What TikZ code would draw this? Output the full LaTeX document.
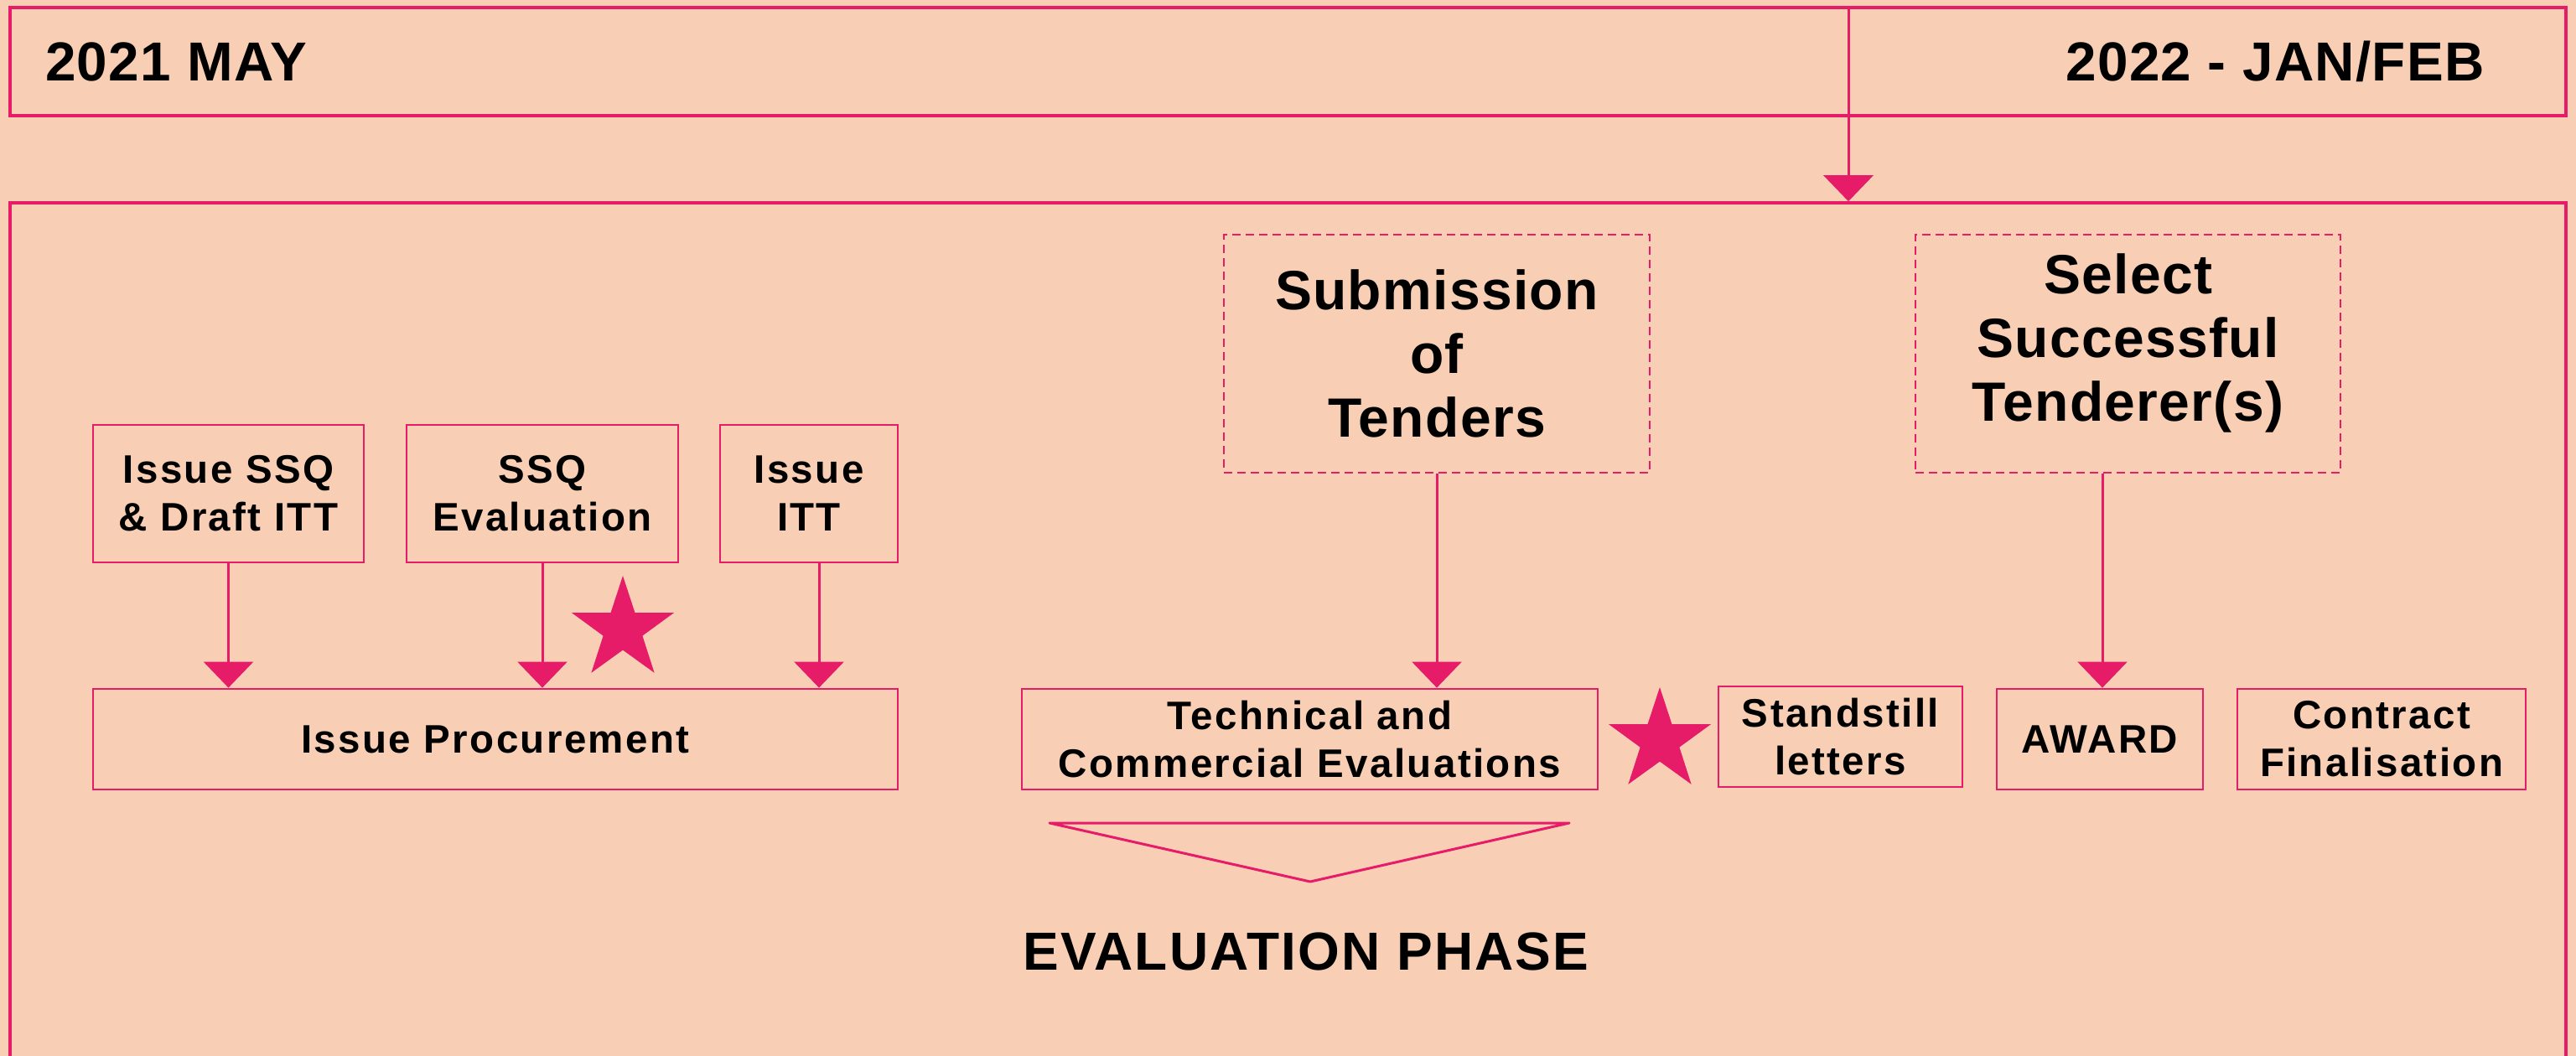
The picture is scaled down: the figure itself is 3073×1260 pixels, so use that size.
\documentclass[tikz,border=0pt]{standalone}
\usepackage{fontspec}
\setmainfont{Liberation Sans}
\newfontfamily\hdrfont{Liberation Sans}[LetterSpace=2]
\newfontfamily\lblfont{Liberation Sans}[LetterSpace=5]
\newfontfamily\bigfont{Liberation Sans}[LetterSpace=2]
\newfontfamily\phasefont{Liberation Sans}[LetterSpace=3.3]
\usetikzlibrary{arrows.meta,shapes.geometric}
\definecolor{paper}{HTML}{F8CFB5}
\definecolor{accent}{HTML}{E61C69}

\begin{document}
\begin{tikzpicture}[x=1pt,y=-1pt,
  frame/.style={draw=accent, line width=3.5pt, inner sep=0pt},
  hdr/.style={inner sep=0pt, font=\hdrfont\bfseries\fontsize{65.6}{70}\selectfont},
  stepbox/.style={draw=accent, line width=2.8pt, inner sep=0pt, align=center,
    font=\lblfont\bfseries\fontsize{47.5}{57}\selectfont},
  tenderbox/.style={draw=accent, line width=2.5pt, dash pattern=on 10pt off 6pt,
    inner sep=0pt, align=center, font=\bigfont\bfseries\fontsize{66}{76}\selectfont},
  arr/.style={draw=accent, line width=3pt, -{Triangle[width=59pt,length=31pt]}},
  pinkstar/.style={star, star points=5, star point ratio=2.6, fill=accent,
    draw=none, minimum size=128pt, inner sep=0pt}]

% page background
\fill[paper] (0,0) rectangle (3073,1260);
\useasboundingbox (0,0) rectangle (3073,1260);

% timeline bar
\node[frame, minimum width=3049pt, minimum height=129pt] (topbar) at (1536.5,73.5) {};
\node[hdr, anchor=base west] (start) at (54,97) {2021 MAY};
\node[hdr, anchor=base east] (finish) at (2964,97) {2022 - JAN/FEB};

% frame of the procurement stages
\node[frame, minimum width=3049pt, minimum height=1100pt] (phase) at (1536.5,792) {};
\coordinate (drop) at (2205,0);
\draw[arr] (topbar.north -| drop) -- (phase.north -| drop);

% procurement issue stage
\node[stepbox, minimum width=323pt, minimum height=164pt] (ssq) at (272.5,589) {Issue SSQ\\\& Draft ITT};
\node[stepbox, minimum width=324pt, minimum height=164pt] (ssqev) at (647,589) {SSQ\\Evaluation};
\node[stepbox, minimum width=212pt, minimum height=164pt] (itt) at (965,589) {Issue\\ITT};
\node[stepbox, minimum width=960pt, minimum height=120pt] (proc) at (591,882) {Issue Procurement};
\draw[arr] (ssq.south) -- (ssq.south |- proc.north);
\draw[arr] (ssqev.south) -- (ssqev.south |- proc.north);
\coordinate (ittdrop) at ([xshift=12pt]itt.south);
\draw[arr] (ittdrop) -- (ittdrop |- proc.north);
\node[pinkstar] (star1) at (743,751) {};

% tender submission and evaluation
\node[tenderbox, minimum width=508pt, minimum height=284pt] (submit) at (1714,422) {Submission\\of\\Tenders};
\node[stepbox, minimum width=687pt, minimum height=120pt] (evals) at (1562.5,882) {Technical and\\Commercial Evaluations};
\draw[arr] (submit.south) -- (submit.south |- evals.north);
\coordinate (tl) at (1252,982);
\coordinate (tr) at (1872,982);
\coordinate (tp) at (1563,1052);
\draw[accent, line width=3pt, line join=round] (tl) -- (tr) -- (tp) -- cycle;
\node[anchor=base, inner sep=0pt, font=\phasefont\bfseries\fontsize{64}{70}\selectfont] (phaselabel) at (1558,1157) {EVALUATION PHASE};

% award stage
\node[pinkstar] (star2) at (1980,884) {};
\node[stepbox, minimum width=291pt, minimum height=120pt] (standstill) at (2195.5,879) {Standstill\\letters};
\node[stepbox, minimum width=246pt, minimum height=120pt] (award) at (2505,882) {AWARD};
\node[stepbox, minimum width=344pt, minimum height=120pt] (contract) at (2841,882) {Contract\\Finalisation};
\node[tenderbox, minimum width=507pt, minimum height=284pt] (select) at (2538.5,422) {Select\\Successful\\Tenderer(s)\rule[-38pt]{0pt}{0pt}};
\coordinate (awdrop) at ([xshift=3pt]award.north);
\draw[arr] (select.south -| awdrop) -- (awdrop);
\end{tikzpicture}
\end{document}
